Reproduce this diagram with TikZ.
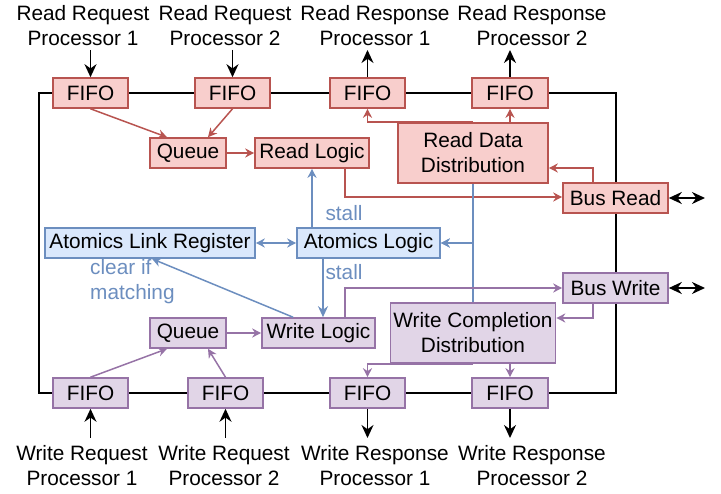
\documentclass[tikz,border=0pt]{standalone}
\usepackage{fontspec}
\setmainfont{Liberation Sans}
\usetikzlibrary{arrows.meta,calc}
\definecolor{rfill}{HTML}{F8CECC}
\definecolor{rline}{HTML}{B85450}
\definecolor{bfill}{HTML}{DAE8FC}
\definecolor{bline}{HTML}{6C8EBF}
\definecolor{pfill}{HTML}{E1D5E7}
\definecolor{pline}{HTML}{9673A6}
\begin{document}
\begin{tikzpicture}[x=1pt,y=-1pt,
  every node/.style={font=\fontsize{20.8}{25}\selectfont, inner sep=0pt},
  box/.style={draw, line width=1.6pt, minimum height=30pt, align=center},
  rbox/.style={box, fill=rfill, draw=rline},
  bbox/.style={box, fill=bfill, draw=bline},
  pbox/.style={box, fill=pfill, draw=pline},
  lbl/.style={align=center},
  blbl/.style={text=bline, align=left},
  big/.style={-{Stealth[length=13pt,width=12pt]}, line width=1.6pt},
  bigboth/.style={{Stealth[length=13pt,width=12pt]}-{Stealth[length=13pt,width=12pt]}, line width=1.6pt},
  rarr/.style={draw=rline, line width=1.5pt, -{Stealth[length=9pt,width=9pt]}},
  barr/.style={draw=bline, line width=1.5pt, -{Stealth[length=9pt,width=9pt]}},
  barrboth/.style={draw=bline, line width=1.5pt, {Stealth[length=9pt,width=9pt]}-{Stealth[length=9pt,width=9pt]}},
  barrthick/.style={draw=bline, line width=2.2pt, -{Stealth[length=11pt,width=10pt]}},
  parr/.style={draw=pline, line width=1.5pt, -{Stealth[length=9pt,width=9pt]}},
  frame/.style={line width=1.2pt}
]
\useasboundingbox (0,0) rectangle (721,494);

% outer frame (drawn first, hidden behind boxes)
\draw[frame] (39,93) rectangle (616,393);

% red boxes
\node[rbox, minimum width=75pt] (tf1) at (90.5,93) {FIFO};
\node[rbox, minimum width=75pt] (tf2) at (232.5,93) {FIFO};
\node[rbox, minimum width=75pt] (tf3) at (367.5,93) {FIFO};
\node[rbox, minimum width=76pt] (tf4) at (510,93) {FIFO};
\node[rbox, minimum width=76pt] (rq) at (188,153) {Queue};
\node[rbox, minimum width=114pt] (rl) at (312,153) {Read Logic};
\node[rbox, minimum width=150pt, minimum height=60pt] (rdd) at (473,153) {Read Data\\Distribution};
\node[rbox, minimum width=105pt] (br) at (615.5,198) {Bus Read};

% blue boxes
\node[bbox, minimum width=210pt] (alr) at (150,243) {Atomics Link Register};
\node[bbox, minimum width=143pt] (al) at (368.5,243) {Atomics Logic};

% purple boxes
\node[pbox, minimum width=76pt] (wq) at (188,333) {Queue};
\node[pbox, minimum width=113pt] (wl) at (318.5,333) {Write Logic};
\node[pbox, minimum width=105pt] (bw) at (615.5,288) {Bus Write};
\node[pbox, minimum width=165pt, minimum height=60pt] (wcd) at (473,333) {Write Completion\\Distribution};
\node[pbox, minimum width=75pt] (bf1) at (90.5,393) {FIFO};
\node[pbox, minimum width=75pt] (bf2) at (225.5,393) {FIFO};
\node[pbox, minimum width=75pt] (bf3) at (367.5,393) {FIFO};
\node[pbox, minimum width=76pt] (bf4) at (510,393) {FIFO};

% outer labels
\node[lbl] (lrq1) at (83,26) {Read Request\\Processor 1};
\node[lbl] (lrq2) at (225,26) {Read Request\\Processor 2};
\node[lbl] (lrs1) at (375,26) {Read Response\\Processor 1};
\node[lbl] (lrs2) at (532,26) {Read Response\\Processor 2};
\node[lbl] (lwq1) at (82,465.5) {Write Request\\Processor 1};
\node[lbl] (lwq2) at (224,465.5) {Write Request\\Processor 2};
\node[lbl] (lws1) at (375,465.5) {Write Response\\Processor 1};
\node[lbl] (lws2) at (532,465.5) {Write Response\\Processor 2};

% free ends of black arrows
\coordinate (a1) at (90.5,50);
\coordinate (a2) at (232.5,50);
\coordinate (a3) at (367.5,50);
\coordinate (a4) at (510,50);
\coordinate (b1) at (90.5,438);
\coordinate (b2) at (225.5,438);
\coordinate (b3) at (367.5,438);
\coordinate (b4) at (510,438);
\coordinate (busr) at (705,198);
\coordinate (busw) at (705,288);

\draw[big] (a1) -- (tf1.north);
\draw[big] (a2) -- (tf2.north);
\draw[big] (tf3.north) -- (a3);
\draw[big] (tf4.north) -- (a4);
\draw[big] (b1) -- (bf1.south);
\draw[big] (b2) -- (bf2.south);
\draw[big] (bf3.south) -- (b3);
\draw[big] (bf4.south) -- (b4);
\draw[bigboth] (br.east) -- (busr);
\draw[bigboth] (bw.east) -- (busw);

% red connectors
\draw[rarr] (tf1.south) -- ([xshift=-21pt]rq.north);
\draw[rarr] (tf2.south) -- ([xshift=20pt]rq.north);
\draw[rarr] (rq.east) -- (rl.west);
\draw[rarr] ([xshift=33pt]rl.south) |- ([yshift=1pt]br.west);
\draw[rarr] ([xshift=-22.5pt]br.north) |- ([yshift=-15pt]rdd.east);
\draw[rarr] (rdd.north) -| (tf3.south);
\draw[rarr] (rdd.north -| tf4.south) -- (tf4.south);

% blue connectors
\draw[barr] (al.north -| rl.south) -- (rl.south);
\node[blbl] (stall1) at (344,213) {stall};
\draw[barrboth] (alr.east) -- (al.west);
\draw[barrthick] ([xshift=-45.5pt]al.south) -- ([xshift=-45.5pt]al.south |- wl.north);
\node[blbl] (stall2) at (344,272) {stall};
\draw[barr] ([xshift=-25.5pt]wl.north) -- ([xshift=2pt]alr.south);
\node[blbl, anchor=west] (clr) at (90,282) {clear if\\matching};
\draw[barr] (rdd.south) |- (al.east);
\draw[barr] (wcd.north) |- (al.east);

% purple connectors
\draw[parr] (bf1.north) -- ([xshift=-21pt]wq.south);
\draw[parr] (bf2.north) -- ([xshift=20pt]wq.south);
\draw[parr] (wq.east) -- (wl.west);
\draw[parr] ([xshift=26.5pt]wl.north) |- (bw.west);
\draw[parr] ([xshift=-22.5pt]bw.south) |- ([yshift=15pt]wcd.east);
\draw[parr] (wcd.south) -| (bf3.north);
\draw[parr] (wcd.south -| bf4.north) -- (bf4.north);
\end{tikzpicture}
\end{document}
